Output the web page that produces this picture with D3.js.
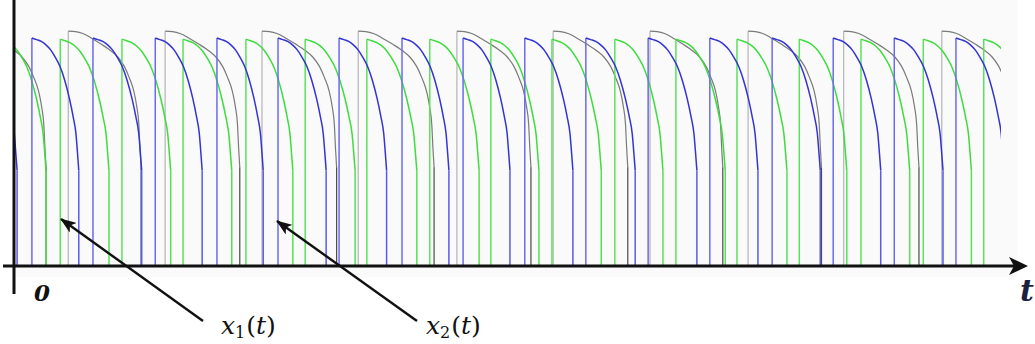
<!DOCTYPE html>
<html lang="en">
<head>
<meta charset="UTF-8">
<title>x1(t), x2(t) pulse trains</title>
<script src="https://d3js.org/d3.v7.min.js"></script>
<style>
    body { margin: 0; background: #fff; }
</style>
</head>
<body>
<div id="chart"></div>
<script>
    // pulse rise / fall times (time units, t = 0 at the vertical axis)
    var blueRise  = [-0.71, 0.29, 1.28, 2.29, 3.29, 4.28, 5.27, 6.29, 7.28, 8.28, 9.27, 10.28, 11.28, 12.29, 13.28, 14.27, 15.27];
    var blueFall  = [0.05, 1.05, 2.07, 3.05, 4.04, 5.06, 6.04, 7.05, 8.04, 9.06, 10.07, 11.07, 12.06, 13.07, 14.05, 15.06, 16.05];
    var greenRise = [-0.25, 0.75, 1.75, 2.74, 3.76, 4.72, 5.72, 6.74, 7.73, 8.72, 9.74, 10.73, 11.72, 12.73, 13.73, 14.74, 15.72];
    var greenFall = [0.52, 1.54, 2.54, 3.53, 4.52, 5.53, 6.53, 7.54, 8.51, 9.52, 10.52, 11.53, 12.53, 13.50, 14.52, 15.52, 16.52];
    var grayRise  = [-0.70, 0.88, 2.45, 4.02, 5.58, 7.18, 8.74, 10.31, 11.90, 13.45, 15.04];
    var grayFall  = [0.52, 2.06, 3.66, 5.23, 6.81, 8.38, 9.95, 11.49, 13.09, 14.67, 16.24];

    // peak level of each train
    var bluePeak = 1.0;
    var greenPeak = 0.995;
    var grayPeak = 1.03;

    // decay shape of one pulse (fraction of pulse width -> fraction of peak)
    var shapeU = [0, 0.1, 0.2, 0.3, 0.4, 0.5, 0.6, 0.7, 0.8, 0.88, 0.94, 0.975, 1];
    var shapeV = [1, 0.993, 0.985, 0.97, 0.948, 0.915, 0.875, 0.815, 0.735, 0.655, 0.58, 0.49, 0.42];
    var grayU  = [0, 0.1, 0.2, 0.32, 0.45, 0.57, 0.68, 0.77, 0.84, 0.9, 0.94, 0.97, 0.985, 1];
    var grayV  = [1, 0.998, 0.99, 0.97, 0.945, 0.92, 0.89, 0.85, 0.80, 0.745, 0.68, 0.6, 0.5, 0.42];

    var tMax = 16;

    var w = 1035;
    var h = 344;
    var serif = "'DejaVu Serif', 'Liberation Serif', serif";

    var xScale = d3.scaleLinear().domain([0, tMax]).range([14, 1001]);
    var yScale = d3.scaleLinear().domain([0, 1]).range([266, 38]);

    var svg = d3.select("#chart")
                .append("svg")
                .attr("width", w)
                .attr("height", h);

    var defs = svg.append("defs");
    defs.append("clipPath")
        .attr("id", "plotclip")
        .append("rect")
        .attr("x", xScale(0))
        .attr("y", 0)
        .attr("width", xScale(tMax) - xScale(0))
        .attr("height", yScale(0));

    defs.append("marker")
        .attr("id", "head")
        .attr("markerUnits", "userSpaceOnUse")
        .attr("viewBox", "0 0 16 12")
        .attr("refX", 15)
        .attr("refY", 6)
        .attr("markerWidth", 16)
        .attr("markerHeight", 12)
        .attr("orient", "auto")
        .append("path")
        .attr("d", "M0,0 L16,6 L0,12 L4,6 Z")
        .attr("fill", "#111");

    // faint plot background
    svg.append("rect")
       .attr("x", xScale(0))
       .attr("y", 0)
       .attr("width", 1017 - xScale(0))
       .attr("height", 277)
       .attr("fill", "#fafafa");

    var edge = d3.line()
                 .x(function(d) { return xScale(d[0]); })
                 .y(function(d) { return yScale(d[1]); });
    var arc = d3.line()
                .x(function(d) { return xScale(d[0]); })
                .y(function(d) { return yScale(d[1]); })
                .curve(d3.curveMonotoneX);

    var plot = svg.append("g").attr("clip-path", "url(#plotclip)");

    function drawTrain(rise, fall, peak, U, V, riseColor, arcColor, fallColor, sw) {
        var pulses = rise.map(function(t0, i) {
            return { t0: t0, t1: fall[i] };
        });
        var g = plot.append("g").attr("fill", "none").attr("stroke-width", sw);

        g.selectAll("path.rise")
         .data(pulses)
         .enter()
         .append("path")
         .attr("class", "rise")
         .attr("stroke", riseColor)
         .attr("d", function(d) { return edge([[d.t0, 0], [d.t0, peak]]); });

        g.selectAll("path.arc")
         .data(pulses)
         .enter()
         .append("path")
         .attr("class", "arc")
         .attr("stroke", arcColor)
         .attr("d", function(d) {
             return arc(U.map(function(u, k) {
                 return [d.t0 + u * (d.t1 - d.t0), peak * V[k]];
             }));
         });

        g.selectAll("path.fall")
         .data(pulses)
         .enter()
         .append("path")
         .attr("class", "fall")
         .attr("stroke", fallColor)
         .attr("d", function(d) {
             return edge([[d.t1, peak * V[V.length - 1]], [d.t1, 0]]);
         });
    }

    drawTrain(grayRise, grayFall, grayPeak, grayU, grayV, "#b4b4b4", "#7a7a7a", "#4a4a4a", 1.2);
    drawTrain(greenRise, greenFall, greenPeak, shapeU, shapeV, "#5ae35a", "#3fdc3f", "#55e055", 1.5);
    drawTrain(blueRise, blueFall, bluePeak, shapeU, shapeV, "#6a6af0", "#3434d6", "#5a5ae8", 1.5);

    // axes
    var x0 = xScale(0);
    var yBase = yScale(0);

    svg.append("line")
       .attr("x1", x0).attr("x2", x0)
       .attr("y1", 0).attr("y2", yBase + 28)
       .attr("stroke", "#111")
       .attr("stroke-width", 3);

    svg.append("line")
       .attr("x1", 3).attr("x2", 1016)
       .attr("y1", yBase).attr("y2", yBase)
       .attr("stroke", "#111")
       .attr("stroke-width", 3);

    svg.append("path")
       .attr("d", "M1028," + yBase + " L1009," + (yBase - 9) + " L1014," + yBase + " L1009," + (yBase + 9) + " Z")
       .attr("fill", "#111");

    svg.append("text")
       .attr("x", 34)
       .attr("y", 301)
       .attr("font-family", serif)
       .attr("font-size", 23)
       .attr("font-style", "italic")
       .attr("font-weight", "bold")
       .attr("fill", "#111")
       .text("0");

    svg.append("text")
       .attr("x", 1020)
       .attr("y", 301)
       .attr("font-family", serif)
       .attr("font-size", 30)
       .attr("font-style", "italic")
       .attr("font-weight", "bold")
       .attr("fill", "#1c2040")
       .text("t");

    // callout arrows
    var callouts = [
        { name: "1", from: [203, 321], to: [61, 219], tx: 221 },
        { name: "2", from: [417, 321], to: [277, 221], tx: 426 }
    ];

    callouts.forEach(function(c) {
        svg.append("line")
           .attr("x1", c.from[0]).attr("y1", c.from[1])
           .attr("x2", c.to[0]).attr("y2", c.to[1])
           .attr("stroke", "#111")
           .attr("stroke-width", 2.4)
           .attr("marker-end", "url(#head)");

        var t = svg.append("text")
                   .attr("x", c.tx)
                   .attr("y", 334)
                   .attr("font-family", serif)
                   .attr("font-size", 25)
                   .attr("fill", "#111");
        t.append("tspan").attr("font-style", "italic").text("x");
        t.append("tspan").attr("font-size", 16).attr("dy", 4).text(c.name);
        t.append("tspan").attr("dy", -4).attr("dx", 1).text("(");
        t.append("tspan").attr("font-style", "italic").text("t");
        t.append("tspan").text(")");
    });
</script>
</body>
</html>
